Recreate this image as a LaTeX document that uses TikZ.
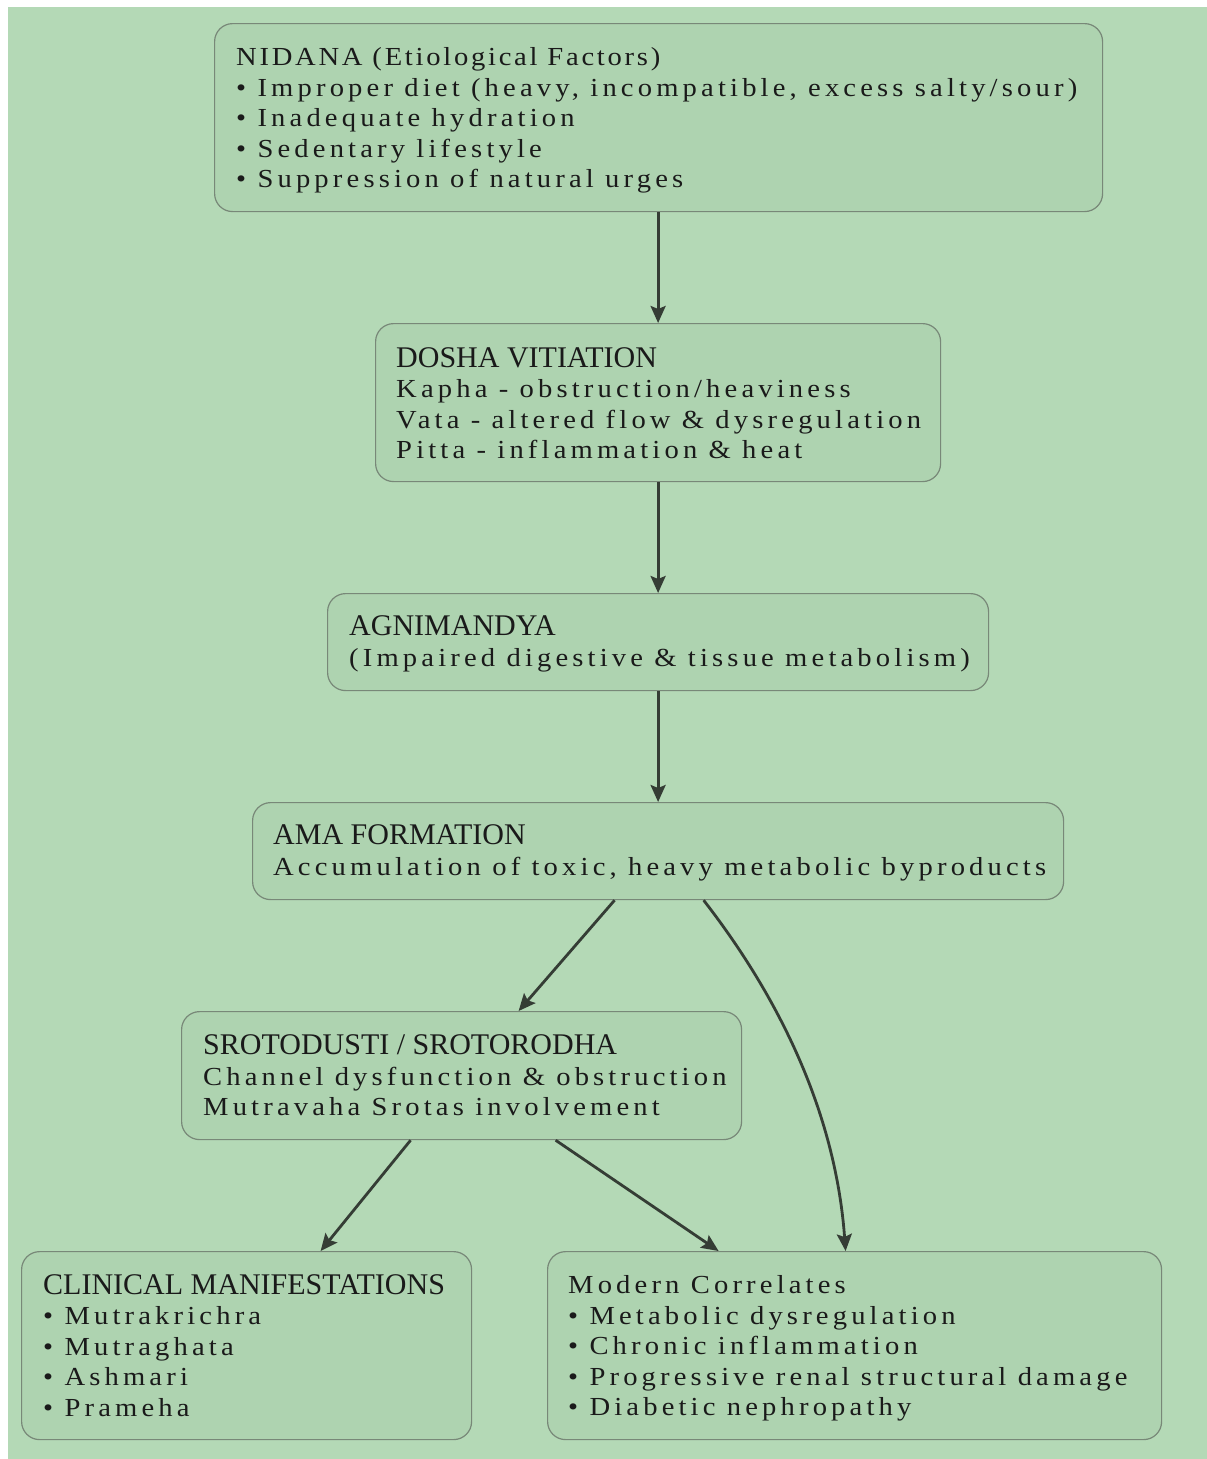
\documentclass[tikz,border=0pt]{standalone}
\usepackage{fontspec}
\setmainfont{Liberation Serif}
\newfontfamily\bodyf[LetterSpace=16,FakeStretch=1.1]{Liberation Serif}
\newfontfamily\nidf[LetterSpace=10.5,FakeStretch=1.1]{Liberation Serif}
\newfontfamily\headf{Liberation Serif}
\usetikzlibrary{arrows.meta}
\definecolor{bg}{HTML}{B4D9B6}
\definecolor{boxfill}{HTML}{AED3B0}
\definecolor{boxline}{HTML}{788878}
\definecolor{arrc}{HTML}{353D35}
\definecolor{txt}{HTML}{1A1A1A}
\newcommand\hd[1]{{\headf\fontsize{30}{30.5}\selectfont #1}}
\begin{document}
\begin{tikzpicture}[x=1pt,y=-1pt,
  box/.style={draw=boxline, line width=1.2pt, fill=boxfill, rounded corners=18pt, anchor=north west, inner sep=0pt},
  txtnode/.style={anchor=west, align=left, inner sep=0pt, text=txt, font=\bodyf\fontsize{26}{30.5}\selectfont},
  arr/.style={draw=arrc, line width=2.8pt, -{Stealth[length=17pt,width=15pt,inset=3pt]}}
]
\useasboundingbox (0,0) rectangle (1207,1459);
\fill[white] (0,0) rectangle (1207,1459);
\fill[bg] (8,7) rectangle (1207,1459);

\node[box, minimum width=888pt, minimum height=188pt] (nid) at (214,23) {};
\node[txtnode] (nidt) at ([xshift=22pt,yshift=-3pt]nid.west) {{\nidf NIDANA (Etiological Factors)}\\
• Improper diet (heavy, incompatible, excess salty/sour)\\
• Inadequate hydration\\
• Sedentary lifestyle\\
• Suppression of natural urges};

\node[box, minimum width=565pt, minimum height=158pt] (dos) at (375,323) {};
\node[txtnode] (dost) at ([xshift=21pt,yshift=-0.5pt]dos.west) {\hd{DOSHA VITIATION}\\
Kapha - obstruction/heaviness\\
Vata - altered flow \& dysregulation\\
Pitta - inflammation \& heat};

\node[box, minimum width=661pt, minimum height=97pt] (agn) at (327,593) {};
\node[txtnode] (agnt) at ([xshift=22pt,yshift=-2pt]agn.west) {\hd{AGNIMANDYA}\\
(Impaired digestive \& tissue metabolism)};

\node[box, minimum width=811pt, minimum height=97pt] (ama) at (252,802) {};
\node[txtnode] (amat) at ([xshift=21pt,yshift=-2pt]ama.west) {\hd{AMA FORMATION}\\
Accumulation of toxic, heavy metabolic byproducts};

\node[box, minimum width=560pt, minimum height=128pt] (sro) at (181,1011) {};
\node[txtnode] (srot) at ([xshift=22pt]sro.west) {\hd{SROTODUSTI / SROTORODHA}\\
Channel dysfunction \& obstruction\\
Mutravaha Srotas involvement};

\node[box, minimum width=450pt, minimum height=188pt] (cli) at (21,1251) {};
\node[txtnode] (clit) at ([xshift=22pt]cli.west) {\hd{CLINICAL MANIFESTATIONS}\\
• Mutrakrichra\\
• Mutraghata\\
• Ashmari\\
• Prameha};

\node[box, minimum width=614pt, minimum height=188pt] (mod) at (547,1251) {};
\node[txtnode] (modt) at ([xshift=21pt,yshift=-3pt]mod.west) {Modern Correlates\\
• Metabolic dysregulation\\
• Chronic inflammation\\
• Progressive renal structural damage\\
• Diabetic nephropathy};

\draw[arr] ([xshift=-0.5pt]nid.south) -- (dos.north);
\draw[arr] (dos.south) -- (agn.north);
\draw[arr] (agn.south) -- (ama.north);
\draw[arr] ([xshift=-43.5pt]ama.south) -- ([xshift=57pt]sro.north);
\draw[arr] ([xshift=45.5pt]ama.south) .. controls (785,1005) and (836,1120) .. ([xshift=-9pt]mod.north);
\draw[arr] ([xshift=-51pt]sro.south) -- ([xshift=74pt]cli.north);
\draw[arr] ([xshift=94pt]sro.south) -- ([xshift=-136pt]mod.north);
\end{tikzpicture}
\end{document}
